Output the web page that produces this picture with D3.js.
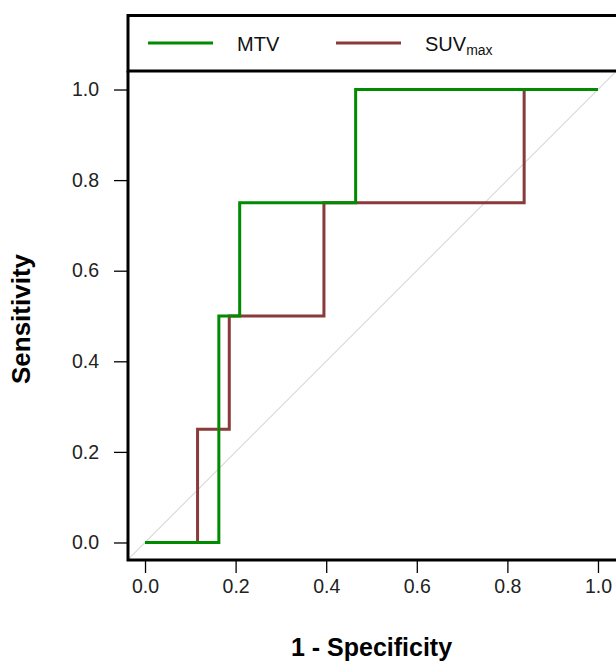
<!DOCTYPE html>
<html><head><meta charset="utf-8">
<script src="https://cdn.jsdelivr.net/npm/d3@7"></script>
<style>
html,body{margin:0;padding:0;background:#fff;overflow:hidden;}
svg{display:block;font-family:"Liberation Sans",Arial,sans-serif;}
</style></head>
<body>
<svg id="c" width="616" height="663"></svg>
<script>
// ROC step points (1 - specificity, sensitivity)
const mtvFPR = [0, 0.163, 0.209, 0.465, 1];
const mtvTPR = [0, 0.5, 0.75, 1, 1];
const suvFPR = [0, 0.116, 0.186, 0.395, 0.837, 1];
const suvTPR = [0, 0.25, 0.5, 0.75, 1, 1];
const seriesNames = ["MTV", "SUV"];
const seriesColors = ["#008B00", "#8B3A3A"];
const tickValues = [0, 0.2, 0.4, 0.6, 0.8, 1.0];
const xTitle = "1 - Specificity";
const yTitle = "Sensitivity";

const svg = d3.select("#c");
const x = d3.scaleLinear().domain([-0.04, 1.04]).range([126.9, 616.1]);
const y = d3.scaleLinear().domain([-0.04, 1.04]).range([560.6, 71.4]);

// diagonal reference
svg.append("line")
  .attr("x1", x(-0.04)).attr("y1", y(-0.04))
  .attr("x2", x(1.04)).attr("y2", y(1.04))
  .attr("stroke", "#c4c4c4").attr("stroke-width", 1);

const line = d3.line().x(d => x(d[0])).y(d => y(d[1])).curve(d3.curveStepAfter);
const suv = suvFPR.map((v, i) => [v, suvTPR[i]]);
const mtv = mtvFPR.map((v, i) => [v, mtvTPR[i]]);
svg.append("path").attr("d", line(suv)).attr("fill", "none")
  .attr("stroke", seriesColors[1]).attr("stroke-width", 3);
svg.append("path").attr("d", line(mtv)).attr("fill", "none")
  .attr("stroke", seriesColors[0]).attr("stroke-width", 3);

// axes
const xAxis = d3.axisBottom(x).tickValues(tickValues).tickFormat(d3.format(".1f"))
  .tickSize(13).tickPadding(6).tickSizeOuter(0);
const gx = svg.append("g").attr("transform", "translate(0,560)").call(xAxis);
gx.select(".domain").remove();
gx.selectAll(".tick line").attr("stroke", "#000").attr("stroke-width", 1.3);
gx.selectAll(".tick text").attr("font-size", 19.5).attr("fill", "#222")
  .attr("font-family", "Liberation Sans, Arial, sans-serif");

const yAxis = d3.axisLeft(y).tickValues(tickValues).tickFormat(d3.format(".1f"))
  .tickSize(14).tickPadding(15).tickSizeOuter(0);
const gy = svg.append("g").attr("transform", "translate(128,0)").call(yAxis);
gy.select(".domain").remove();
gy.selectAll(".tick line").attr("stroke", "#000").attr("stroke-width", 1.3);
gy.selectAll(".tick text").attr("font-size", 19.5).attr("fill", "#222")
  .attr("font-family", "Liberation Sans, Arial, sans-serif");

// L-shaped axis lines
svg.append("path").attr("d", `M128,71 L128,560 L616,560`).attr("fill", "none")
  .attr("stroke", "#000").attr("stroke-width", 3);

// legend box
svg.append("rect").attr("x", 128).attr("y", 15.5).attr("width", 500).attr("height", 55.5)
  .attr("fill", "none").attr("stroke", "#000").attr("stroke-width", 3);

const leg = [
  {x1: 148, x2: 213, tx: 237},
  {x1: 336, x2: 401, tx: 425}
];
leg.forEach((l, i) => {
  svg.append("line").attr("x1", l.x1).attr("x2", l.x2).attr("y1", 43).attr("y2", 43)
    .attr("stroke", seriesColors[i]).attr("stroke-width", 3);
});
svg.append("text").attr("x", leg[0].tx).attr("y", 51).attr("font-size", 20).attr("fill", "#111")
  .text(seriesNames[0]);
const t2 = svg.append("text").attr("x", leg[1].tx).attr("y", 51).attr("font-size", 20).attr("fill", "#111");
t2.append("tspan").text(seriesNames[1]);
t2.append("tspan").attr("font-size", 14).attr("dy", 4).text("max");

// titles
svg.append("text").attr("x", x(0.5)).attr("y", 656).attr("text-anchor", "middle")
  .attr("font-size", 25).attr("font-weight", "bold").attr("fill", "#000").text(xTitle);
svg.append("text").attr("transform", "translate(29.5,319) rotate(-90)").attr("text-anchor", "middle")
  .attr("font-size", 26).attr("font-weight", "bold").attr("fill", "#000").text(yTitle);
</script>
</body></html>
